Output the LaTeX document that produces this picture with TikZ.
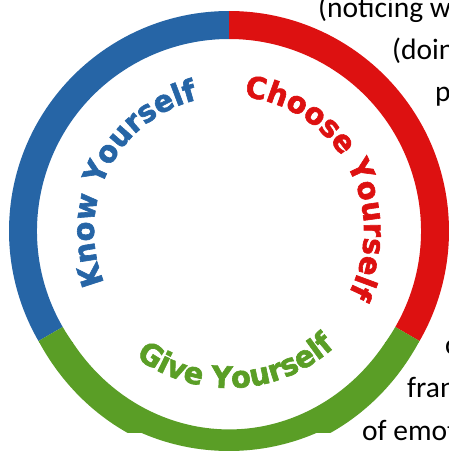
\documentclass[tikz,border=0pt]{standalone}
\usepackage{fontspec}
\setmainfont{Carlito}
\newfontfamily\ringfam[FakeBold=2, FakeStretch=0.96]{DejaVu Sans Bold}
\usetikzlibrary{decorations.text}
\definecolor{kblue}{RGB}{38,101,166}
\definecolor{cred}{RGB}{221,17,17}
\definecolor{ggreen}{RGB}{90,158,38}
\newcommand{\ringfont}{\ringfam\fontsize{30}{30}\selectfont}
\tikzset{sidetext/.style={anchor=base west, inner sep=0pt, font=\fontsize{29.5}{30}\selectfont}}
\begin{document}
\begin{tikzpicture}[x=1pt, y=1pt]
\useasboundingbox (0,0) rectangle (449,451);
\clip (0,0) rectangle (449,451);
\coordinate (ctr) at (229,220);
\node[sidetext] (txt0) at (318,433) {(noticing w};
\node[sidetext] (txt1) at (392,391) {(doin};
\node[sidetext] (txt2) at (435,349) {p};
\node[sidetext] (txt3) at (445,96) {c};
\node[sidetext] (txt4) at (407,53) {fran};
\node[sidetext] (txt5) at (362,11) {of emot};
\fill[kblue] (ctr) ++(90:220) arc[start angle=90, end angle=210, radius=220] -- ++(30:28) arc[start angle=210, end angle=90, radius=192] -- cycle;
\fill[cred] (ctr) ++(90:220) arc[start angle=90, end angle=-30, radius=220] -- ++(150:28) arc[start angle=-30, end angle=90, radius=192] -- cycle;
\begin{scope}
\clip (0,108) rectangle (449,451);
\fill[ggreen] (ctr) ++(-30:220) arc[start angle=-30, end angle=-150, radius=220] -- ++(30:28) arc[start angle=-150, end angle=-30, radius=192] -- cycle;
\end{scope}
\begin{scope}
\clip (0,18) rectangle (449,108);
\begin{scope}[yshift=-8.64pt, yscale=1.08]
\fill[ggreen] (229,220) ++(-30:220) arc[start angle=-30, end angle=-150, radius=220] -- ++(30:28) arc[start angle=-150, end angle=-30, radius=192] -- cycle;
\end{scope}
\end{scope}
\begin{scope}
\clip (0,0) rectangle (449,18);
\fill[ggreen] (ctr) circle[radius=220];
\end{scope}
\path[decorate, decoration={text along path, text align=center, text={|\ringfont\color{kblue}|Know Yourself}}] (ctr) ++(243:135) arc[start angle=243, end angle=63, radius=135];
\path[decorate, decoration={text along path, text align=center, text={|\ringfont\color{cred}|Choose Yourself}}] (ctr) ++(118:135) arc[start angle=118, end angle=-62, radius=135];
\path[decorate, decoration={text along path, text align=center, text={|\ringfont\color{ggreen}|Give Yourself}}] (ctr) ++(183:157) arc[start angle=183, end angle=363, radius=157];
\end{tikzpicture}
\end{document}
